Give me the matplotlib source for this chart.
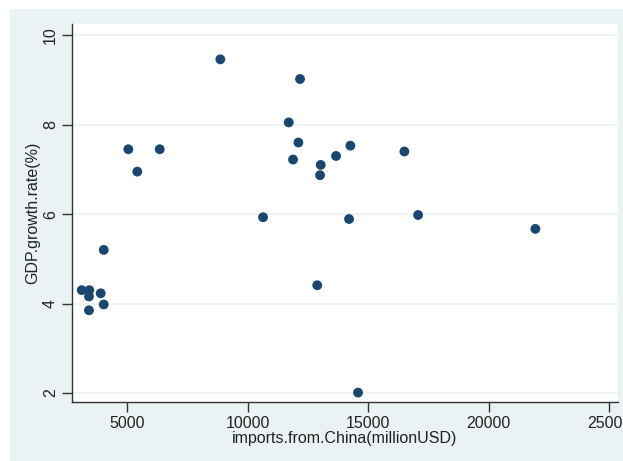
import numpy as np
import matplotlib
matplotlib.use("Agg")
import matplotlib.pyplot as plt
from matplotlib.patches import Rectangle

plt.rcParams['font.family'] = ['Liberation Sans', 'DejaVu Sans']

# imports from China (million USD) vs GDP growth rate (%)
imports_china = [8860, 12167, 11698, 12097, 11877, 5042, 5415, 6345, 10632,
                 13026, 12997, 13661, 14255, 16496, 14201, 17064, 21932,
                 4021, 3108, 3423, 3410, 3896, 4021, 3410, 12880, 14574]
gdp_growth = [9.46, 9.02, 8.05, 7.60, 7.22, 7.45, 6.95, 7.45, 5.93,
              7.10, 6.87, 7.30, 7.53, 7.40, 5.89, 5.98, 5.67,
              5.20, 4.30, 4.30, 4.16, 4.23, 3.98, 3.85, 4.41, 2.01]

x_ticks = [5000, 10000, 15000, 20000, 25000]
y_ticks = [2, 4, 6, 8, 10]

bg = "#eaf2f3"
navy = "#1a476f"
fs = 11.5

fig = plt.figure(figsize=(6.23, 4.61), dpi=100)
fig.patch.set_facecolor("white")
fig.add_artist(Rectangle((10 / 623, 0), 1, 1 - 9 / 461, transform=fig.transFigure,
                         facecolor=bg, edgecolor="none", zorder=0))

ax = fig.add_axes([72 / 623, 1 - 402 / 461, 546 / 623, 378 / 461])
ax.set_facecolor("white")
ax.scatter(imports_china, gdp_growth, s=50, color=navy, edgecolors="none", zorder=3)

ax.set_xlim(2705, 25360)
ax.set_ylim(1.8, 10.25)
ax.set_xticks(x_ticks)
ax.set_yticks(y_ticks)
ax.set_yticklabels([str(v) for v in y_ticks], rotation=90, va="center")
ax.grid(axis="y", color=bg, linewidth=1.2, zorder=0)
ax.tick_params(axis="both", labelsize=fs, colors="#333333", length=7,
               width=1, labelcolor="#222222", pad=3)

for side in ("top", "right"):
    ax.spines[side].set_visible(False)
for side in ("left", "bottom"):
    ax.spines[side].set_color("#333333")
    ax.spines[side].set_linewidth(1)

ax.set_xlabel("imports.from.China(millionUSD)", fontsize=fs, color="#222222", labelpad=0)
ax.set_ylabel("GDP.growth.rate(%)", fontsize=fs, color="#222222", labelpad=2)

fig.savefig("out.png", dpi=100, facecolor=fig.get_facecolor())
